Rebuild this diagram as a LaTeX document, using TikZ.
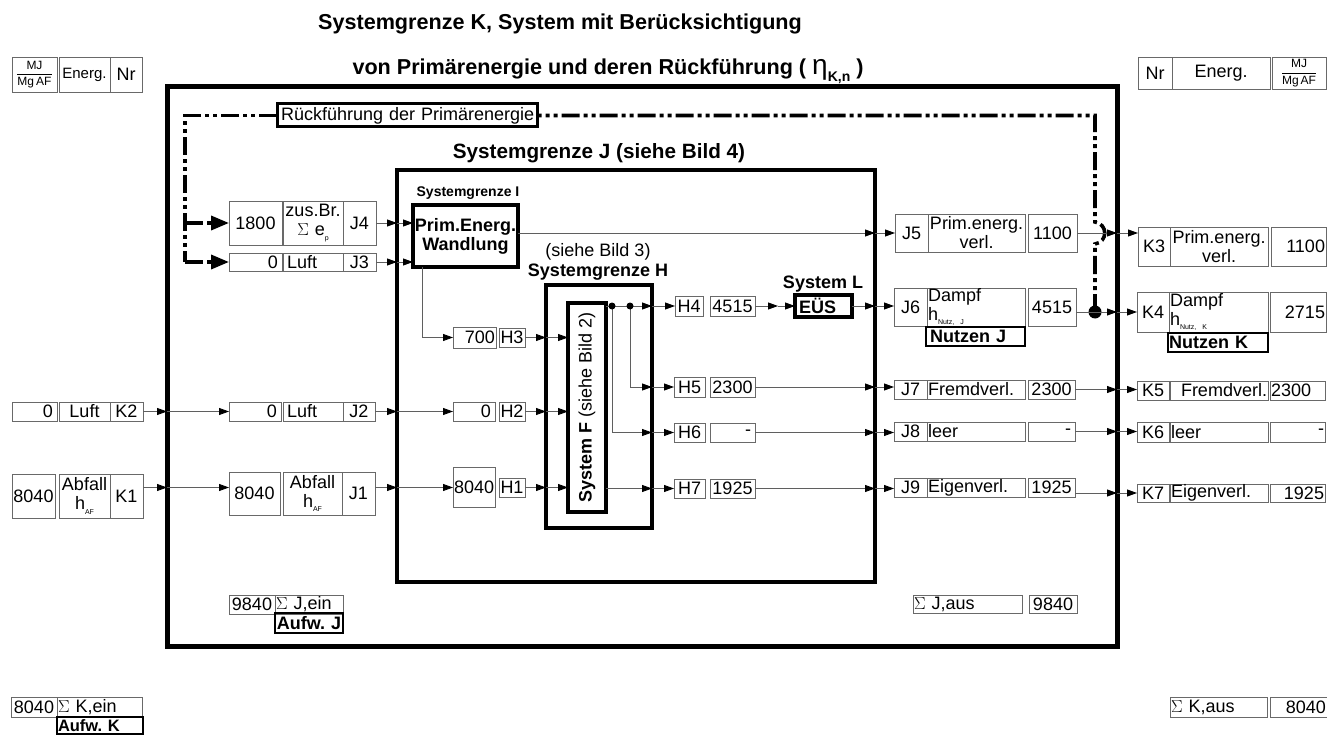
\documentclass[tikz,border=0pt]{standalone}
\usepackage{amsmath}
\usepackage{fontspec}
\setmainfont{Liberation Sans}
\usetikzlibrary{arrows.meta,positioning,calc}
\frenchspacing
\definecolor{cellgray}{RGB}{105,105,105}
\definecolor{flowgray}{RGB}{95,95,95}
\newcommand{\cellfont}{\fontsize{18}{19}\selectfont}
\newcommand{\tinysub}[1]{\raisebox{-0.45ex}{\fontsize{7}{8}\selectfont #1}}
% box given by its corners (x1,y1) (x2,y2), y counted downwards
\newcommand{\cellbox}[7][]{%
  \pgfmathsetmacro{\cw}{#5-#3}\pgfmathsetmacro{\ch}{#6-#4}\pgfmathsetmacro{\tw}{#5-#3-2}%
  \node[cell,minimum width=\cw pt,minimum height=\ch pt,text width=\tw pt,#1]
    (#2) at ({(#3+#5)/2},{(#4+#6)/2}) {#7};}

\begin{document}
\begin{tikzpicture}[x=1pt,y=-1pt,
    cell/.style={draw=cellgray,line width=0.8pt,inner xsep=1pt,inner ysep=0pt,
      outer sep=0pt,font=\cellfont,align=center},
    kframe/.style={draw=black,line width=5pt},
    jframe/.style={draw=black,line width=4pt},
    sysbox/.style={draw=black,line width=3.5pt},
    boldbox/.style={draw=black,line width=2.5pt,font=\cellfont\bfseries},
    flow/.style={draw=flowgray,line width=0.9pt,-{Triangle[length=10pt,width=7pt,color=black]}},
    recirc/.style={draw=black,line width=3.6pt,dash pattern=on 18pt off 4pt on 4pt off 4pt on 4pt off 4pt},
    bigtip/.style={-{Triangle[length=18pt,width=14pt]}}]
  \useasboundingbox (0,0) rectangle (1327,735);

  % Titles
  \node[font=\fontsize{21.6}{24}\selectfont\bfseries] (title1) at (560,24)
    {Systemgrenze K, System mit Berücksichtigung};
  \node[font=\fontsize{21.6}{24}\selectfont\bfseries] (title2) at (608,71)
    {von Primärenergie und deren Rückführung ( {\mdseries\fontsize{28}{28}\selectfont η}\raisebox{-0.6ex}{\fontsize{14}{14}\selectfont K,n} )};

  % Header
  \cellbox[font=\fontsize{12}{13}\selectfont]{hdLu}{12}{57}{57}{92}{$\dfrac{\text{MJ}}{\text{Mg\,AF}}$}
  \cellbox[font=\fontsize{15}{16}\selectfont]{hdLe}{59}{57}{110}{92}{Energ.}
  \cellbox{hdLn}{110}{57}{142}{92}{Nr}
  \cellbox{hdRn}{1138}{57}{1172}{89}{Nr}
  \cellbox{hdRe}{1172}{57}{1270}{89}{Energ.}
  \cellbox[font=\fontsize{12}{13}\selectfont]{hdRu}{1272}{57}{1326}{89}{$\dfrac{\text{MJ}}{\text{Mg\,AF}}$}

  % System boundaries
  \cellbox[kframe]{FK}{167}{87}{1117}{646}{}
  \cellbox[jframe]{FJ}{397}{170}{875}{582}{}
  \cellbox[jframe]{FH}{546}{285}{652}{528}{}
  \cellbox[jframe]{FF}{568}{303}{606}{512}{}
  \cellbox[sysbox,font=\cellfont\bfseries]{primE}{413}{205}{518}{267}{Prim.Energ.\\Wandlung}
  \cellbox[sysbox,line width=3pt,align=left]{rueck}{277}{104}{537}{127}{\,Rückführung der Primärenergie}
  \cellbox[sysbox,font=\cellfont\bfseries,align=left]{eus}{795}{295}{852}{317}{\,EÜS}

  \node[font=\fontsize{20.7}{22}\selectfont\bfseries] (labJ) at (599,153) {Systemgrenze J (siehe Bild 4)};
  \node[font=\fontsize{14}{16}\selectfont\bfseries] (labI) at (468,193) {Systemgrenze I};
  \node[font=\cellfont] (labH1) at (598,252) {(siehe Bild 3)};
  \node[font=\cellfont\bfseries] (labH) at (598,272) {Systemgrenze H};
  \node[font=\cellfont\bfseries] (labL) at (823,284) {System L};
  \node[rotate=90,font=\cellfont] (labF) at (FF.center) {\textbf{System F} (siehe Bild 2)};

  % K inputs
  \cellbox[align=right]{K2val}{12}{402}{57}{421}{0\,}
  \cellbox{K2name}{59}{402}{110}{421}{Luft}
  \cellbox{K2nr}{110}{402}{143}{421}{K2}
  \cellbox{K1val}{12}{474}{55}{518}{8040}
  \cellbox{K1name}{59}{474}{110}{518}{Abfall\\h\tinysub{AF}}
  \cellbox{K1nr}{110}{474}{143}{518}{K1}

  % J inputs
  \cellbox{J4val}{229}{201}{282}{245}{1800}
  \cellbox{J4name}{283}{201}{343}{245}{zus.Br.\\$\Sigma$ e\tinysub{p}}
  \cellbox{J4nr}{343}{201}{376}{245}{J4}
  \cellbox[align=right]{J3val}{229}{253}{282}{271}{0\,}
  \cellbox[align=left]{J3name}{283}{253}{343}{271}{\,Luft}
  \cellbox{J3nr}{343}{253}{376}{271}{J3}
  \cellbox[align=right]{J2val}{229}{402}{281}{421}{0\,}
  \cellbox[align=left]{J2name}{283}{402}{343}{421}{\,Luft}
  \cellbox{J2nr}{343}{402}{375}{421}{J2}
  \cellbox{J1val}{229}{472}{280}{515}{8040}
  \cellbox{J1name}{283}{472}{342}{515}{Abfall\\h\tinysub{AF}}
  \cellbox{J1nr}{342}{472}{375}{515}{J1}

  % H inputs
  \cellbox[align=right]{H3val}{453}{327}{496}{348}{700}
  \cellbox{H3nr}{499}{328}{525}{347}{H3}
  \cellbox[align=right]{H2val}{453}{402}{495}{421}{0\,}
  \cellbox{H2nr}{499}{402}{525}{421}{H2}
  \cellbox{H1val}{453}{467}{495}{507}{8040}
  \cellbox{H1nr}{499}{478}{525}{497}{H1}

  % H outputs
  \cellbox{H4nr}{675}{296}{703}{316}{H4}
  \cellbox{H4val}{710}{296}{755}{316}{4515}
  \cellbox{H5nr}{674}{377}{705}{397}{H5}
  \cellbox{H5val}{710}{377}{755}{397}{2300}
  \cellbox{H6nr}{674}{423}{705}{442}{H6}
  \cellbox[align=right]{H6val}{710}{423}{755}{442}{-\,}
  \cellbox{H7nr}{674}{479}{705}{498}{H7}
  \cellbox{H7val}{710}{479}{755}{498}{1925}

  % J outputs
  \cellbox{J5nr}{895}{214}{928}{252}{J5}
  \cellbox{J5name}{928}{214}{1025}{252}{Prim.energ.\\verl.}
  \cellbox{J5val}{1028}{214}{1077}{252}{1100}
  \cellbox{J6nr}{894}{288}{927}{326}{J6}
  \cellbox[align=left]{J6name}{927}{288}{1025}{326}{Dampf\\h\tinysub{Nutz, J}}
  \cellbox{J6val}{1028}{288}{1076}{326}{4515}
  \cellbox[boldbox,align=left]{nutzJ}{926}{327}{1025}{346}{\,Nutzen J}
  \cellbox{J7nr}{894}{380}{927}{399}{J7}
  \cellbox[align=left]{J7name}{927}{380}{1025}{399}{Fremdverl.}
  \cellbox{J7val}{1028}{380}{1075}{399}{2300}
  \cellbox{J8nr}{894}{422}{927}{441}{J8}
  \cellbox[align=left]{J8name}{927}{422}{1025}{441}{leer}
  \cellbox[align=right]{J8val}{1028}{422}{1075}{441}{-\,}
  \cellbox{J9nr}{894}{478}{927}{497}{J9}
  \cellbox[align=left]{J9name}{927}{478}{1025}{497}{Eigenverl.}
  \cellbox{J9val}{1028}{478}{1075}{497}{1925}

  % K outputs
  \cellbox{K3nr}{1138}{227}{1170}{266}{K3}
  \cellbox{K3name}{1170}{227}{1268}{266}{Prim.energ.\\verl.}
  \cellbox[align=right]{K3val}{1271}{227}{1326}{266}{1100}
  \cellbox{K4nr}{1137}{292}{1169}{332}{K4}
  \cellbox[align=left]{K4name}{1169}{292}{1268}{332}{Dampf\\h\tinysub{Nutz, K}}
  \cellbox[align=right]{K4val}{1270}{292}{1326}{332}{2715}
  \cellbox[boldbox,align=left]{nutzK}{1168}{333}{1268}{352}{Nutzen K}
  \cellbox{K5nr}{1137}{381}{1169}{400}{K5}
  \cellbox[align=right]{K5name}{1170}{381}{1268}{400}{Fremdverl.}
  \cellbox[align=left]{K5val}{1270}{381}{1325}{400}{2300}
  \cellbox{K6nr}{1137}{422}{1169}{442}{K6}
  \cellbox[align=left]{K6name}{1170}{422}{1268}{442}{leer}
  \cellbox[align=right]{K6val}{1270}{422}{1325}{442}{-}
  \cellbox{K7nr}{1137}{484}{1169}{502}{K7}
  \cellbox[align=left]{K7name}{1170}{484}{1268}{502}{Eigenverl.}
  \cellbox[align=right]{K7val}{1270}{484}{1325}{502}{1925}

  % Sums
  \cellbox{sJinV}{229}{595}{275}{614}{9840}
  \cellbox[align=left]{sJin}{275}{595}{343}{614}{$\Sigma$ J,ein}
  \cellbox[boldbox]{aufwJ}{275}{613}{343}{633}{Aufw. J}
  \cellbox[align=left]{sJaus}{913}{595}{1022}{613}{$\Sigma$ J,aus}
  \cellbox{sJausV}{1029}{595}{1077}{613}{9840}
  \cellbox{sKinV}{11}{697}{57}{717}{8040}
  \cellbox[align=left]{sKin}{57}{697}{142}{717}{$\Sigma$ K,ein}
  \cellbox[boldbox,align=left,font=\fontsize{16.5}{17}\selectfont\bfseries]{aufwK}{57}{717}{143}{734}{Aufw. K}
  \cellbox[align=left]{sKaus}{1170}{697}{1267}{717}{$\Sigma$ K,aus}
  \cellbox[align=right]{sKausV}{1270}{697}{1327}{717}{8040}

  % Recirculation of primary energy
  \coordinate (dR) at ([xshift=19pt]J6val.east |- K4nr.west);
  \coordinate (bump) at (dR |- J5val.east);
  \coordinate (rL) at ($(J4val.west |- rueck.west)+(-44,0)$);
  \draw[recirc] (dR) -- ($(bump)+(0,11)$) .. controls ($(bump)+(13,9)$) and ($(bump)+(13,-9)$) .. ($(bump)+(0,-11)$)
    -- (dR |- rueck.east) -- (rueck.east);
  \draw[recirc] (rueck.west) -- (rL) -- (rL |- J3val.west);
  \draw[recirc,bigtip] (rL |- J4val.west) -- (J4val.west);
  \draw[recirc,bigtip] (rL |- J3val.west) -- (J3val.west);
  \fill (dR) circle (6.5);

  % Flows K -> J -> H
  \draw[flow] (K2nr.east) -- (K2nr.east -| FK.west);
  \draw[flow] (K2nr.east -| FK.west) -- (J2val.west);
  \draw[flow] (J2nr.east) -- (J2nr.east -| FJ.west);
  \draw[flow] (J2nr.east -| FJ.west) -- (H2val.west);
  \draw[flow] (H2nr.east) -- (H2nr.east -| FH.west);
  \draw[flow] (H2nr.east -| FH.west) -- (H2nr.east -| FF.west);
  \draw[flow] (K1nr.east |- H1nr) -- (FK.west |- H1nr);
  \draw[flow] (FK.west |- H1nr) -- (J1val.west |- H1nr);
  \draw[flow] (J1nr.east |- H1nr) -- (FJ.west |- H1nr);
  \draw[flow] (FJ.west |- H1nr) -- (H1val.west |- H1nr);
  \draw[flow] (H1nr.east) -- (FH.west |- H1nr);
  \draw[flow] (FH.west |- H1nr) -- (FF.west |- H1nr);
  \draw[flow] (J4nr.east) -- (J4nr.east -| FJ.west);
  \draw[flow] (J4nr.east -| FJ.west) -- (J4nr.east -| primE.west);
  \draw[flow] (J3nr.east) -- (J3nr.east -| FJ.west);
  \draw[flow] (J3nr.east -| FJ.west) -- (J3nr.east -| primE.west);

  % Primary energy conversion
  \draw[flow] (primE.east |- J5nr.west) -- (FJ.east |- J5nr.west);
  \draw[flow] (FJ.east |- J5nr.west) -- (J5nr.west);
  \draw[flow] ([xshift=9pt]primE.south west) |- (H3val.west);
  \draw[flow] (H3nr.east) -- (FH.west |- H3nr.east);
  \draw[flow] (FH.west |- H3nr.east) -- (FF.west |- H3nr.east);

  % Outputs of system F
  \coordinate (d1) at ([xshift=6pt]FF.east |- H4nr.west);
  \coordinate (d2) at ([xshift=24pt]FF.east |- H4nr.west);
  \draw[flowgray,line width=0.9pt] (FF.east |- H4nr.west) -- (d2);
  \draw[flow] (d2) -- (FH.east |- H4nr.west);
  \draw[flow] (FH.east |- H4nr.west) -- (H4nr.west);
  \draw[flow] (d2) |- (FH.east |- H5nr.west);
  \draw[flow] (FH.east |- H5nr.west) -- (H5nr.west);
  \draw[flow] (d1) |- (FH.east |- H6nr.west);
  \draw[flow] (FH.east |- H6nr.west) -- (H6nr.west);
  \draw[flow] (FF.east |- H7nr.west) -- (FH.east |- H7nr.west);
  \draw[flow] (FH.east |- H7nr.west) -- (H7nr.west);
  \fill (d1) circle (3.5);
  \fill (d2) circle (3.5);

  % H -> J
  \draw[flow] (H4val.east) -- ([xshift=-17pt]eus.west);
  \draw[flow] ([xshift=-17pt]eus.west) -- (eus.west);
  \draw[flow] (eus.east) -- (FJ.east |- eus.east);
  \draw[flow] (FJ.east |- eus.east) -- (J6nr.west |- eus.east);
  \draw[flow] (H5val.east) -- (FJ.east |- H5val.east);
  \draw[flow] (FJ.east |- H5val.east) -- (J7nr.west |- H5val.east);
  \draw[flow] (H6val.east) -- (FJ.east |- H6val.east);
  \draw[flow] (FJ.east |- H6val.east) -- (J8nr.west |- H6val.east);
  \draw[flow] (H7val.east) -- (FJ.east |- H7val.east);
  \draw[flow] (FJ.east |- H7val.east) -- (J9nr.west |- H7val.east);

  % J -> K
  \draw[flow] (J5val.east) -- (FK.east |- J5val.east);
  \draw[flow] (FK.east |- J5val.east) -- (K3nr.west |- J5val.east);
  \draw[flow] (J6val.east |- K4nr.west) -- (FK.east |- K4nr.west);
  \draw[flow] (FK.east |- K4nr.west) -- (K4nr.west);
  \draw[flow] (J7val.east) -- (FK.east |- J7val.east);
  \draw[flow] (FK.east |- J7val.east) -- (K5nr.west |- J7val.east);
  \draw[flow] (J8val.east) -- (FK.east |- J8val.east);
  \draw[flow] (FK.east |- J8val.east) -- (K6nr.west |- J8val.east);
  \draw[flow] (J9val.east |- K7nr.west) -- (FK.east |- K7nr.west);
  \draw[flow] (FK.east |- K7nr.west) -- (K7nr.west);
\end{tikzpicture}
\end{document}
